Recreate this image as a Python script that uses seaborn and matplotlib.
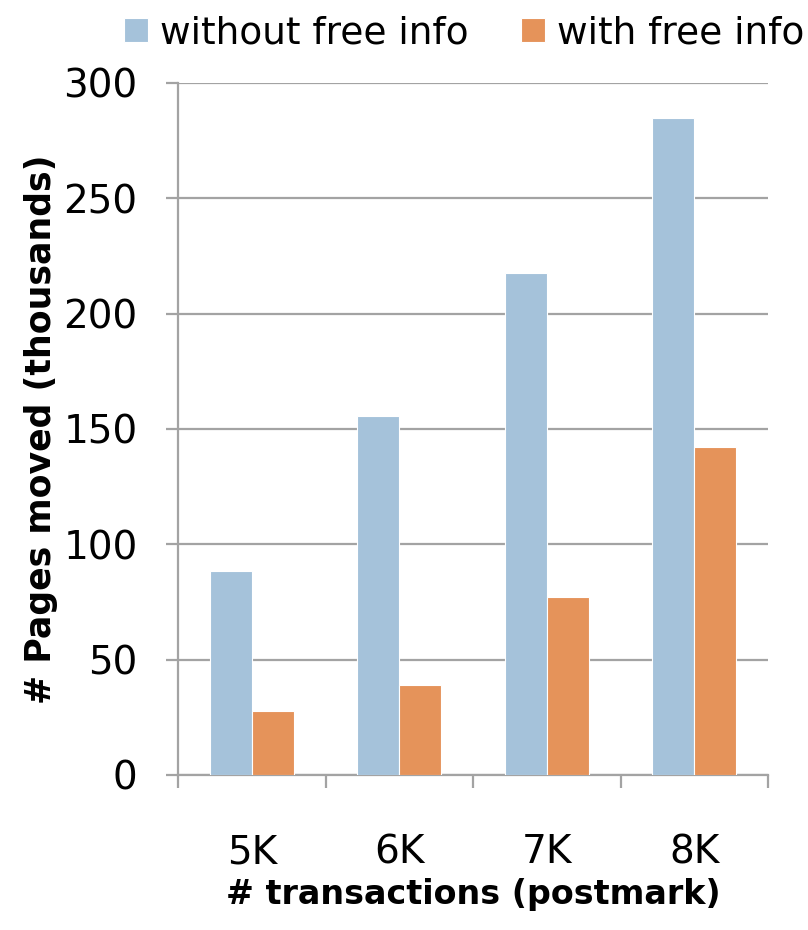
import matplotlib
matplotlib.use("Agg")
import matplotlib.pyplot as plt
import seaborn as sns
import pandas as pd

categories = ["5K", "6K", "7K", "8K"]
without_free = [88.4, 155.6, 217.5, 284.8]
with_free = [27.7, 39.0, 77.0, 142.2]
series_names = ["without free info", "with free info"]
y_ticks = [0, 50, 100, 150, 200, 250, 300]

df = pd.DataFrame({
    "cat": categories * 2,
    "value": without_free + with_free,
    "series": [series_names[0]] * 4 + [series_names[1]] * 4,
})

sns.set_theme(style="white")
plt.rcParams["font.family"] = ["DejaVu Sans"]
plt.rcParams["text.color"] = "black"

grey = "#a3a3a3"
fig = plt.figure(figsize=(8.08, 9.30), dpi=100)
ax = fig.add_axes([0.2203, 0.1667, 0.7302, 0.7441])

sns.barplot(data=df, x="cat", y="value", hue="series", order=categories,
            hue_order=series_names, palette=["#A5C2DA", "#E5935A"],
            saturation=1, width=0.57, gap=0, edgecolor="white", linewidth=0.8,
            errorbar=None, ax=ax, legend=True, zorder=3)

ax.set_ylim(0, 300)
ax.set_xlim(-0.5, 3.5)
ax.set_yticks(y_ticks)
ax.set_yticklabels([str(t) for t in y_ticks], fontsize=28)
ax.yaxis.grid(True, color=grey, linewidth=1.6)
ax.set_axisbelow(True)

for s in ["top", "right"]:
    ax.spines[s].set_visible(False)
for s in ["left", "bottom"]:
    ax.spines[s].set_color(grey)
    ax.spines[s].set_linewidth(1.6)

ax.tick_params(axis="y", which="major", direction="out", length=9, width=1.6,
               color=grey, pad=20, left=True, labelcolor="black")
ax.set_xticks(range(len(categories)))
ax.set_xticklabels(categories, fontsize=28)
ax.set_xticks([-0.5, 0.5, 1.5, 2.5, 3.5], minor=True)
ax.tick_params(axis="x", which="major", length=0, pad=42, labelcolor="black")
ax.tick_params(axis="x", which="minor", direction="out", length=9, width=1.6,
               color=grey, bottom=True)

ax.set_xlabel("# transactions (postmark)", fontsize=24, fontweight="bold",
              labelpad=5, color="black")
ax.set_ylabel("# Pages moved (thousands)", fontsize=25, fontweight="bold",
              labelpad=4, color="black")

handles, labels = ax.get_legend_handles_labels()
ax.get_legend().remove()
fig.legend(handles, labels, loc="upper center", bbox_to_anchor=(0.575, 1.02),
           ncol=2, frameon=False, fontsize=27, labelcolor="black",
           handlelength=0.64, handleheight=0.61, handletextpad=0.32,
           columnspacing=1.4)

fig.savefig("out.png", dpi=100)
